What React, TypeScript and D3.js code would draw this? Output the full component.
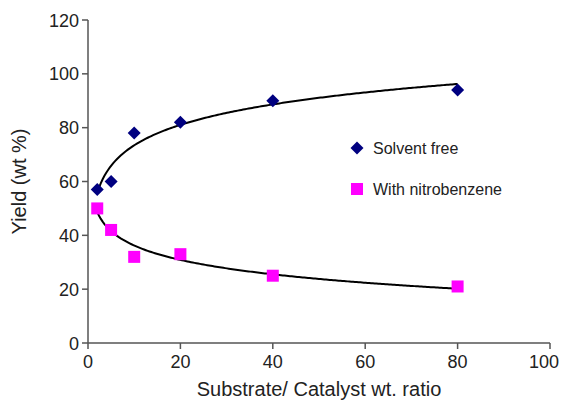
import React from "react";
import * as d3 from "d3";

const ratios = [2, 5, 10, 20, 40, 80];
const solventFree = [57, 60, 78, 82, 90, 94];
const withNitrobenzene = [50, 42, 32, 33, 25, 21];
const xTicks = [0, 20, 40, 60, 80, 100];
const yTicks = [0, 20, 40, 60, 80, 100, 120];

const W = 561;
const H = 405;
const margin = { left: 88, right: 11, top: 20, bottom: 62 };

// logarithmic least-squares trend line, like a spreadsheet trendline
function logFit(xs: number[], ys: number[]) {
  const lx = xs.map(Math.log);
  const mx = d3.mean(lx)!;
  const my = d3.mean(ys)!;
  const sxy = d3.sum(lx, (v, i) => (v - mx) * (ys[i] - my));
  const sxx = d3.sum(lx, (v) => (v - mx) ** 2);
  const b = sxy / sxx;
  const a = my - b * mx;
  return (x: number) => a + b * Math.log(x);
}

export default function App() {
  const x = d3.scaleLinear().domain([0, 100]).range([margin.left, W - margin.right]);
  const y = d3.scaleLinear().domain([0, 120]).range([H - margin.bottom, margin.top]);

  const curve = (f: (v: number) => number) => {
    const [x0, x1] = d3.extent(ratios) as [number, number];
    const pts = d3.range(0, 201).map((i) => x0 + ((x1 - x0) * i) / 200);
    return d3
      .line<number>()
      .x((v) => x(v))
      .y((v) => y(f(v)))(pts)!;
  };

  const fitA = logFit(ratios, solventFree);
  const fitB = logFit(ratios, withNitrobenzene);
  const axisColor = "#555";
  const font = "Arial, 'Liberation Sans', sans-serif";
  const d = 6.5;
  const s = 6;

  return (
    <svg
      width={W}
      height={H}
      style={{ position: "absolute", left: 0, top: 0, background: "#fff" }}
      fontFamily={font}
    >
      {/* axes */}
      <line x1={x(0)} x2={x(100)} y1={y(0)} y2={y(0)} stroke={axisColor} strokeWidth={1.5} />
      <line x1={x(0)} x2={x(0)} y1={y(0)} y2={y(120)} stroke={axisColor} strokeWidth={1.5} />
      {xTicks.map((t, i) => {
        const last = i === xTicks.length - 1;
        return (
          <g key={"x" + t}>
            <line x1={x(t)} x2={x(t)} y1={y(0)} y2={y(0) + 6} stroke={axisColor} strokeWidth={1.5} />
            <text
              x={last ? W - 2 : x(t)}
              y={y(0) + 25}
              textAnchor={last ? "end" : "middle"}
              fontSize={18}
              fill="#222"
            >
              {t}
            </text>
          </g>
        );
      })}
      {yTicks.map((t) => (
        <g key={"y" + t}>
          <line x1={x(0) - 6} x2={x(0)} y1={y(t)} y2={y(t)} stroke={axisColor} strokeWidth={1.5} />
          <text x={x(0) - 9} y={y(t) + 6.5} textAnchor="end" fontSize={18} fill="#222">
            {t}
          </text>
        </g>
      ))}
      <text
        transform={`translate(26,${(y(0) + y(120)) / 2}) rotate(-90)`}
        textAnchor="middle"
        fontSize={20}
        fill="#222"
      >
        Yield (wt %)
      </text>
      <text x={(x(0) + x(100)) / 2} y={396} textAnchor="middle" fontSize={20} fill="#222">
        Substrate/ Catalyst wt. ratio
      </text>

      {/* trend lines */}
      <path d={curve(fitA)} fill="none" stroke="#000" strokeWidth={2} />
      <path d={curve(fitB)} fill="none" stroke="#000" strokeWidth={2} />

      {/* points */}
      {ratios.map((r, i) => (
        <path
          key={"a" + i}
          d={`M${x(r)},${y(solventFree[i]) - d}L${x(r) + d},${y(solventFree[i])}L${x(r)},${y(solventFree[i]) + d}L${x(r) - d},${y(solventFree[i])}Z`}
          fill="#000080"
        />
      ))}
      {ratios.map((r, i) => (
        <rect
          key={"b" + i}
          x={x(r) - s}
          y={y(withNitrobenzene[i]) - s}
          width={2 * s}
          height={2 * s}
          fill="#ff00ff"
        />
      ))}

      {/* legend */}
      <path d={`M357,${148 - d}L${357 + d},148L357,${148 + d}L${357 - d},148Z`} fill="#000080" />
      <text x={373} y={154} fontSize={16} fill="#222">
        Solvent free
      </text>
      <rect x={351} y={183} width={12} height={12} fill="#ff00ff" />
      <text x={373} y={195} fontSize={16} fill="#222">
        With nitrobenzene
      </text>
    </svg>
  );
}
